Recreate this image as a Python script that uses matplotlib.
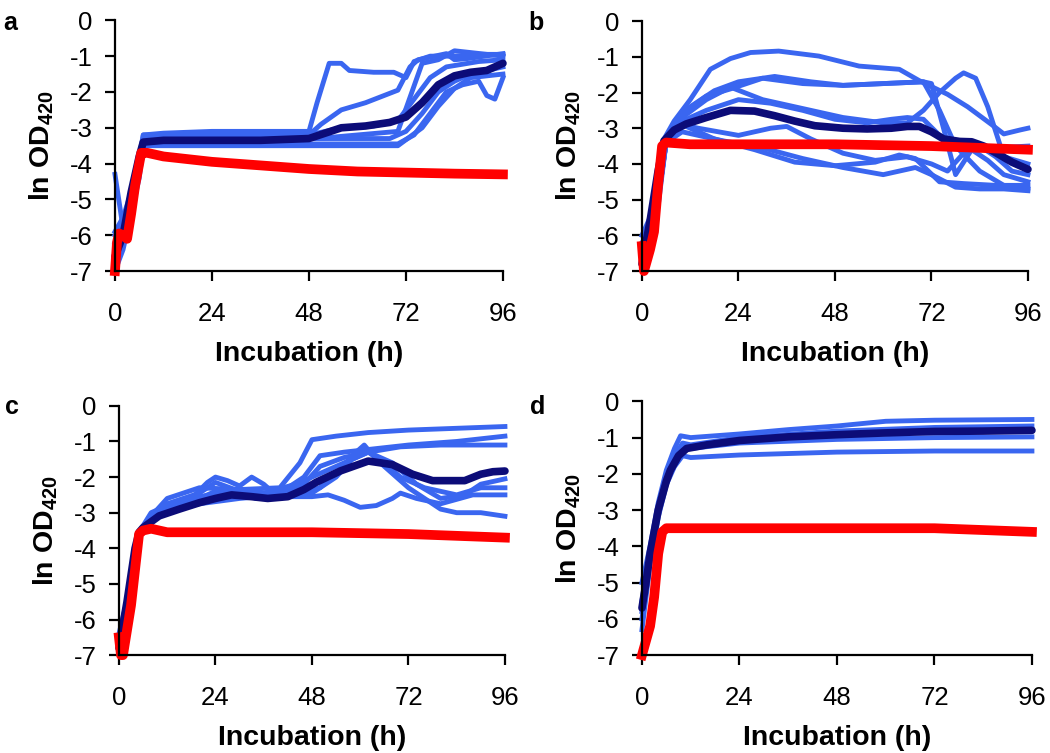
import matplotlib
matplotlib.use("Agg")
from matplotlib import pyplot as plt

plt.rcParams['font.family'] = ['Liberation Sans', 'DejaVu Sans']
plt.rcParams['mathtext.fontset'] = 'custom'
plt.rcParams['mathtext.bf'] = 'Liberation Sans:bold'
plt.rcParams['mathtext.rm'] = 'Liberation Sans:bold'
plt.rcParams['axes.unicode_minus'] = False

BLUE = '#3a66f0'
NAVY = '#0c0c78'
RED = '#ff0000'

x_ticks = [0, 24, 48, 72, 96]
y_ticks = [-7, -6, -5, -4, -3, -2, -1, 0]

# ---- panel a ----
a_red_t = [0, 0.5, 1, 2, 3, 4, 5, 6.5, 8, 12, 24, 36, 48, 60, 72, 84, 96]
a_red_y = [-7, -6.2, -5.95, -6.0, -6.1, -5.4, -4.6, -3.7, -3.7, -3.8, -3.95, -4.05, -4.15, -4.22, -4.25, -4.28, -4.3]
a_mean_t = [0, 2, 4, 6, 7, 12, 24, 36, 48, 52, 56, 62, 68, 72, 76, 80, 84, 88, 92, 96]
a_mean_y = [-6.6, -6.0, -4.8, -3.8, -3.4, -3.35, -3.35, -3.35, -3.3, -3.15, -3.0, -2.95, -2.85, -2.7, -2.3, -1.8, -1.55, -1.45, -1.4, -1.2]
a_rep_t = [
    [0, 2, 4, 6, 7, 12, 24, 36, 48, 50, 53, 56, 58, 64, 69, 72, 74, 78, 84, 90, 96],
    [0, 2, 4, 6, 7, 12, 24, 36, 48, 51, 56, 62, 70, 73, 75, 82, 84, 87, 96],
    [0, 2, 4, 6, 7, 12, 24, 36, 48, 60, 68, 72, 76, 80, 84, 88, 96],
    [0, 2, 4, 6, 7, 12, 24, 36, 48, 60, 70, 74, 78, 82, 86, 90, 92, 94, 96],
    [0, 2, 4, 6, 7, 12, 24, 36, 48, 60, 70, 76, 80, 84, 88, 96],
    [0, 2, 4, 6, 7, 12, 24, 36, 48, 56, 64, 70, 74, 78, 82, 90, 96],
    [0, 2, 4, 6, 7, 12, 24, 36, 50, 60, 70, 76, 80, 84, 96],
]
a_rep_y = [
    [-4.3, -5.8, -5.2, -4.2, -3.2, -3.15, -3.1, -3.1, -3.1, -2.3, -1.2, -1.2, -1.4, -1.45, -1.45, -1.6, -1.15, -1.0, -1.0, -0.95, -0.95],
    [-6.5, -6.0, -5.0, -4.0, -3.35, -3.35, -3.35, -3.35, -3.2, -2.9, -2.5, -2.3, -1.95, -1.3, -1.1, -0.93, -1.1, -1.07, -0.93],
    [-6.0, -5.7, -5.0, -3.9, -3.3, -3.3, -3.3, -3.3, -3.3, -3.3, -3.3, -3.1, -2.6, -2.0, -1.7, -1.5, -1.3],
    [-6.3, -6.2, -5.2, -4.2, -3.45, -3.45, -3.45, -3.45, -3.45, -3.45, -3.45, -3.2, -2.6, -2.0, -1.8, -1.7, -2.1, -2.2, -1.6],
    [-7.0, -6.4, -5.4, -4.4, -3.5, -3.5, -3.5, -3.5, -3.5, -3.5, -3.5, -3.0, -2.4, -1.9, -1.6, -1.5],
    [-5.9, -5.5, -4.8, -3.8, -3.2, -3.2, -3.2, -3.2, -3.2, -3.0, -2.95, -2.8, -2.2, -1.6, -1.3, -1.15, -1.1],
    [-6.2, -5.8, -5.0, -4.0, -3.3, -3.3, -3.3, -3.3, -3.3, -3.2, -3.1, -1.2, -1.1, -0.85, -1.0],
]

# ---- panel b ----
b_red_t = [0, 0.5, 1, 2, 3, 4, 5, 6, 12, 24, 48, 72, 84, 96]
b_red_y = [-6.3, -7, -6.8, -6.4, -5.9, -4.6, -3.5, -3.4, -3.45, -3.45, -3.45, -3.5, -3.55, -3.6]
b_mean_t = [0, 2, 4, 5.5, 8, 11, 16, 22, 28, 33, 38, 43, 50, 56, 62, 66, 69, 72, 75, 79, 82, 85, 89, 92, 96]
b_mean_y = [-6.8, -5.6, -4.2, -3.35, -3.05, -2.88, -2.7, -2.5, -2.52, -2.65, -2.8, -2.93, -3.0, -3.02, -3.0, -2.95, -2.95,
            -3.1, -3.3, -3.37, -3.38, -3.5, -3.75, -3.95, -4.15]
b_rep_t = [
    [0, 3, 5, 8, 12, 17, 22, 27, 34, 44, 54, 64, 69, 76, 81, 87, 90, 94, 96],
    [0, 3, 5, 8, 12, 18, 24, 33, 42, 50, 60, 70, 74, 78, 84, 90, 96],
    [0, 4, 6, 10, 16, 22, 30, 40, 50, 60, 66, 70, 74, 78, 80, 83, 86, 90, 96],
    [0, 4, 6, 10, 20, 30, 40, 50, 60, 68, 72, 78, 84, 90, 96],
    [0, 4, 6, 10, 18, 28, 38, 48, 58, 64, 68, 74, 80, 88, 96],
    [0, 4, 6, 10, 14, 24, 32, 36, 42, 50, 58, 66, 72, 76, 80, 84, 88, 92, 96],
    [0, 4, 6, 10, 16, 24, 32, 40, 48, 56, 62, 66, 70, 74, 78, 82, 88, 96],
    [0, 4, 6, 10, 16, 22, 30, 40, 50, 60, 70, 72, 75, 78, 82, 86, 90, 96],
]
b_rep_y = [
    [-6.5, -5.5, -3.4, -2.8, -2.2, -1.35, -1.05, -0.88, -0.84, -0.98, -1.26, -1.35, -1.67, -2.05, -2.4, -2.9, -3.16, -3.05, -3.0],
    [-6.2, -5.8, -3.5, -2.9, -2.4, -1.95, -1.7, -1.55, -1.7, -1.8, -1.75, -1.7, -2.5, -3.5, -4.2, -4.6, -4.7],
    [-6.0, -5.0, -3.4, -2.7, -2.2, -1.85, -2.2, -2.45, -2.7, -2.85, -2.85, -2.5, -2.0, -1.6, -1.45, -1.6, -2.4, -3.8, -4.0],
    [-6.6, -5.0, -3.4, -3.1, -3.35, -3.55, -3.85, -4.1, -4.3, -4.1, -4.3, -4.65, -4.7, -4.7, -4.75],
    [-6.4, -4.8, -3.4, -2.9, -3.3, -3.6, -3.95, -4.05, -3.95, -3.75, -3.85, -4.5, -4.55, -4.6, -4.6],
    [-6.7, -5.2, -3.4, -2.9, -3.0, -3.2, -3.0, -2.95, -3.3, -3.7, -3.9, -3.8, -4.0, -4.2, -3.7, -3.5, -3.8, -4.2, -4.3],
    [-6.5, -5.0, -3.4, -2.8, -2.5, -2.2, -2.3, -2.5, -2.75, -2.85, -2.75, -2.7, -2.75, -3.2, -3.4, -3.5, -3.55, -3.5],
    [-6.3, -5.0, -3.4, -2.6, -2.1, -1.9, -1.6, -1.75, -1.8, -1.75, -1.7, -1.75, -3.0, -4.3, -3.6, -3.9, -4.3, -4.5],
]

# ---- panel c ----
c_red_t = [0, 0.5, 1, 2, 3, 4, 5, 6, 8, 12, 24, 48, 72, 84, 96]
c_red_y = [-6.5, -7, -7, -6.3, -5.6, -4.6, -3.6, -3.5, -3.45, -3.55, -3.55, -3.55, -3.6, -3.65, -3.7]
c_mean_t = [0, 2, 4, 5, 6, 10, 15, 20, 24, 28, 33, 37, 42, 46, 49, 55, 62, 68, 73, 78, 82, 86, 90, 93, 96]
c_mean_y = [-6.8, -5.5, -4.0, -3.55, -3.42, -3.09, -2.9, -2.72, -2.6, -2.5, -2.55, -2.6, -2.55, -2.35, -2.15, -1.83, -1.55,
            -1.65, -1.92, -2.1, -2.1, -2.1, -1.92, -1.85, -1.83]
c_rep_t = [
    [0, 3, 5, 8, 12, 20, 30, 40, 45, 48, 54, 62, 72, 84, 96],
    [0, 3, 5, 8, 12, 20, 30, 40, 46, 50, 56, 64, 72, 84, 96],
    [0, 3, 5, 8, 12, 20, 30, 40, 46, 50, 56, 62, 70, 80, 96],
    [0, 3, 5, 8, 12, 18, 22, 24, 27, 30, 33, 36, 40, 45, 50, 55, 58, 61, 64, 68, 72, 76, 80, 84, 90, 96],
    [0, 3, 5, 8, 12, 20, 26, 32, 40, 48, 52, 56, 60, 64, 68, 70, 74, 80, 88, 96],
    [0, 3, 5, 8, 12, 20, 24, 30, 34, 40, 48, 54, 58, 62, 66, 70, 76, 84, 90, 96],
    [0, 3, 5, 8, 12, 20, 28, 36, 44, 50, 56, 62, 68, 74, 80, 86, 90, 96],
]
c_rep_y = [
    [-6.8, -5.2, -3.55, -3.1, -2.6, -2.3, -2.35, -2.3, -1.6, -0.95, -0.85, -0.75, -0.68, -0.63, -0.58],
    [-6.6, -5.0, -3.55, -3.2, -2.9, -2.7, -2.55, -2.45, -2.0, -1.4, -1.3, -1.2, -1.1, -1.0, -0.85],
    [-6.4, -5.0, -3.55, -3.2, -2.95, -2.75, -2.6, -2.5, -2.2, -1.7, -1.45, -1.3, -1.15, -1.1, -1.1],
    [-6.9, -5.0, -3.55, -3.2, -2.95, -2.6, -2.15, -2.0, -2.1, -2.25, -2.0, -2.2, -2.6, -2.45, -2.3, -1.8, -1.4, -1.1, -1.5,
     -1.9, -2.3, -2.6, -2.9, -3.0, -3.0, -3.1],
    [-6.6, -5.0, -3.55, -3.1, -2.8, -2.6, -2.3, -2.5, -2.55, -2.55, -2.5, -2.65, -2.85, -2.8, -2.6, -2.45, -2.6, -2.75, -2.5, -2.5],
    [-6.7, -5.0, -3.55, -3.1, -2.75, -2.45, -2.15, -2.4, -2.6, -2.55, -2.45, -2.0, -1.5, -1.3, -1.6, -2.0, -2.3, -2.5, -2.3, -2.3],
    [-6.5, -5.0, -3.55, -3.0, -2.8, -2.55, -2.4, -2.45, -2.2, -1.9, -1.6, -1.3, -1.6, -2.2, -2.6, -2.5, -2.2, -2.05],
]

# ---- panel d ----
d_red_t = [0, 0.5, 1, 2, 3, 4, 5, 6, 8, 24, 48, 72, 84, 96]
d_red_y = [-7, -6.8, -6.6, -6.2, -5.4, -4.2, -3.6, -3.5, -3.5, -3.5, -3.5, -3.5, -3.55, -3.6]
d_mean_t = [0, 1, 2, 3, 4, 5, 6, 7, 8, 9, 11, 16, 24, 36, 48, 60, 72, 84, 96]
d_mean_y = [-5.7, -5.0, -4.2, -3.6, -3.0, -2.6, -2.2, -1.9, -1.7, -1.5, -1.3, -1.2, -1.08, -0.98, -0.92, -0.87, -0.83, -0.82, -0.8]
d_rep_t = [
    [0, 2, 4, 6, 8, 9.5, 12, 24, 36, 48, 60, 72, 96],
    [0, 2, 4, 6, 8, 10, 12, 24, 48, 72, 96],
    [0, 2, 4, 6, 8, 10, 12, 24, 48, 72, 96],
    [0, 2, 4, 6, 8, 10, 12, 24, 48, 72, 96],
    [0, 2, 4, 6, 8, 10, 12, 24, 48, 72, 96],
]
d_rep_y = [
    [-5.0, -4.0, -2.8, -1.9, -1.3, -0.95, -1.0, -0.9, -0.78, -0.68, -0.55, -0.52, -0.5],
    [-6.3, -4.5, -3.2, -2.3, -1.8, -1.5, -1.55, -1.48, -1.4, -1.37, -1.37],
    [-6.0, -4.3, -3.0, -2.2, -1.6, -1.3, -1.3, -1.15, -1.05, -1.0, -0.98],
    [-5.5, -4.1, -2.9, -2.0, -1.5, -1.15, -1.2, -1.0, -0.82, -0.72, -0.68],
    [-5.8, -4.3, -3.0, -2.1, -1.5, -1.2, -1.25, -1.1, -0.9, -0.82, -0.78],
]

panels = [
    ('a', [0.1095, 0.640, 0.3695, 0.333], a_rep_t, a_rep_y, a_mean_t, a_mean_y, a_red_t, a_red_y),
    ('b', [0.6114, 0.640, 0.3676, 0.332], b_rep_t, b_rep_y, b_mean_t, b_mean_y, b_red_t, b_red_y),
    ('c', [0.1133, 0.130, 0.3676, 0.331], c_rep_t, c_rep_y, c_mean_t, c_mean_y, c_red_t, c_red_y),
    ('d', [0.6114, 0.130, 0.3714, 0.337], d_rep_t, d_rep_y, d_mean_t, d_mean_y, d_red_t, d_red_y),
]
letter_pos = {'a': (0.003, 0.985), 'b': (0.503, 0.985), 'c': (0.005, 0.476), 'd': (0.505, 0.476)}


def main():
    fig = plt.figure(figsize=(10.5, 7.53), dpi=100)
    for name, rect, rep_t, rep_y, mean_t, mean_y, red_t, red_y in panels:
        ax = fig.add_axes(rect)
        for t, y in zip(rep_t, rep_y):
            ax.plot(t, y, color=BLUE, lw=3.5, clip_on=False, solid_joinstyle='round')
        ax.plot(mean_t, mean_y, color=NAVY, lw=5.5, clip_on=False, solid_capstyle='round')
        ax.plot(red_t, red_y, color=RED, lw=7, clip_on=False)

        ax.set_xlim(0, 96)
        ax.set_ylim(-7, 0)
        ax.set_xticks(x_ticks)
        ax.set_yticks(y_ticks)
        ax.spines['top'].set_visible(False)
        ax.spines['right'].set_visible(False)
        for s in ('left', 'bottom'):
            ax.spines[s].set_linewidth(1.6)
        ax.tick_params(axis='both', direction='out', width=1.6, length=7, labelsize=18.5)
        ax.tick_params(axis='x', pad=15)
        ax.tick_params(axis='y', pad=9)
        ax.set_xlabel('Incubation (h)', fontsize=20.5, fontweight='bold', labelpad=11)
        ax.set_ylabel(r'ln OD$_{\mathbf{420}}$', fontsize=20.5, fontweight='bold', labelpad=10)
        fig.text(letter_pos[name][0], letter_pos[name][1], name, fontsize=18, fontweight='bold',
                 ha='left', va='top')

    fig.savefig('out.png', dpi=100)


if __name__ == "__main__":
    main()
